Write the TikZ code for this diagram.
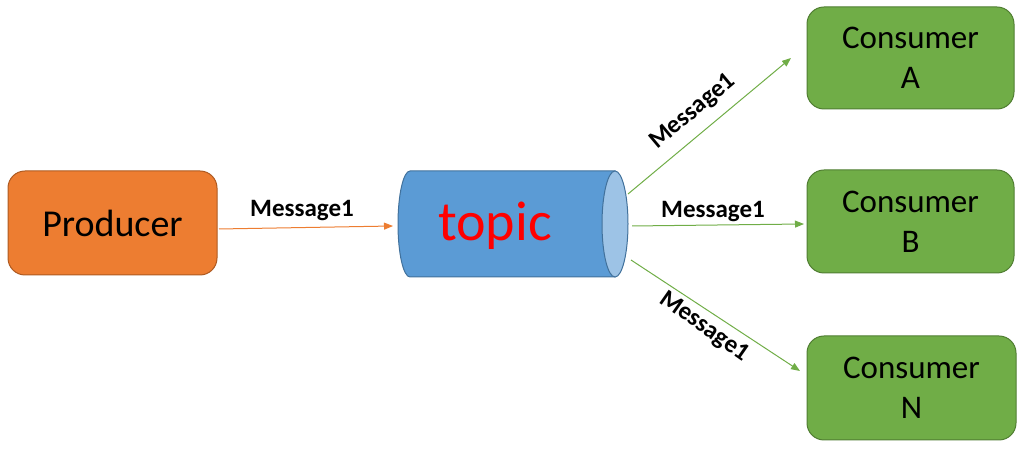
\documentclass[tikz,border=0pt]{standalone}
\usepackage{fontspec}
\setmainfont{Carlito}
\usetikzlibrary{arrows.meta}
\definecolor{orfill}{HTML}{ED7D31}
\definecolor{ordraw}{HTML}{AE5A21}
\definecolor{blfill}{HTML}{5B9BD5}
\definecolor{bldraw}{HTML}{41719C}
\definecolor{blcap}{HTML}{9DC3E6}
\definecolor{grfill}{HTML}{70AD47}
\definecolor{grdraw}{HTML}{507E32}
\tikzset{
  box/.style={rounded corners=17pt, line width=1pt, inner sep=0pt, align=center},
  prodbox/.style={box, fill=orfill, draw=ordraw, minimum width=209pt, minimum height=104pt, font=\fontsize{38}{44}\selectfont},
  consbox/.style={box, fill=grfill, draw=grdraw, minimum width=207pt, minimum height=102pt, font=\fontsize{33}{40}\selectfont},
  msg/.style={font=\fontsize{25}{28}\selectfont\bfseries, inner sep=0pt},
  orarrow/.style={draw=orfill, line width=1pt, -{Triangle[length=9pt,width=7pt]}},
  grarrow/.style={draw=grfill, line width=1pt, -{Triangle[length=9pt,width=7pt]}}
}
\begin{document}
\begin{tikzpicture}[x=1pt,y=1pt]
\useasboundingbox (0,0) rectangle (1026,449);
% producer
\node[prodbox] (prod) at (112.5,226) {Producer};
% consumers
\node[consbox] (ca) at (910.5,391) {Consumer\\A};
\node[consbox, minimum height=103pt] (cb) at (910.5,227.5) {Consumer\\B};
\node[consbox, minimum width=209pt, minimum height=104pt] (cn) at (911.5,61) {Consumer\\N};
% topic cylinder
\path[fill=blfill, draw=bldraw, line width=1pt]
  (410pt,278pt) -- (615pt,278pt) -- (615pt,172pt) -- (410pt,172pt)
  arc[start angle=270, end angle=90, x radius=12pt, y radius=53pt] -- cycle;
\path[fill=blcap, draw=bldraw, line width=1pt] (615pt,225pt) ellipse[x radius=13pt, y radius=53pt];
\node[minimum width=230pt, minimum height=106pt, inner sep=0pt] (topic) at (513,225) {};
\node[text=red, font=\fontsize{56}{60}\selectfont, inner sep=0pt] (topictext) at (495,223) {topic};
% connectors
\coordinate (pout) at (219,220);
\coordinate (tin) at (393,223);
\coordinate (ta) at (628,255);
\coordinate (tb) at (632,223);
\coordinate (tn) at (631,189);
\coordinate (ain) at (791,391);
\coordinate (bin) at (804,225);
\coordinate (nin) at (800,78);
\draw[orarrow] (pout) -- (tin);
\draw[grarrow] (ta) -- (ain);
\draw[grarrow] (tb) -- (bin);
\draw[grarrow] (tn) -- (nin);
% labels
\node[msg] (m1) at (302,238) {Message1};
\node[msg] (m2) at (713,237) {Message1};
\node[msg, rotate=40] (m3) at (693,337) {Message1};
\node[msg, rotate=-35] (m4) at (704,122) {Message1};
\end{tikzpicture}
\end{document}
